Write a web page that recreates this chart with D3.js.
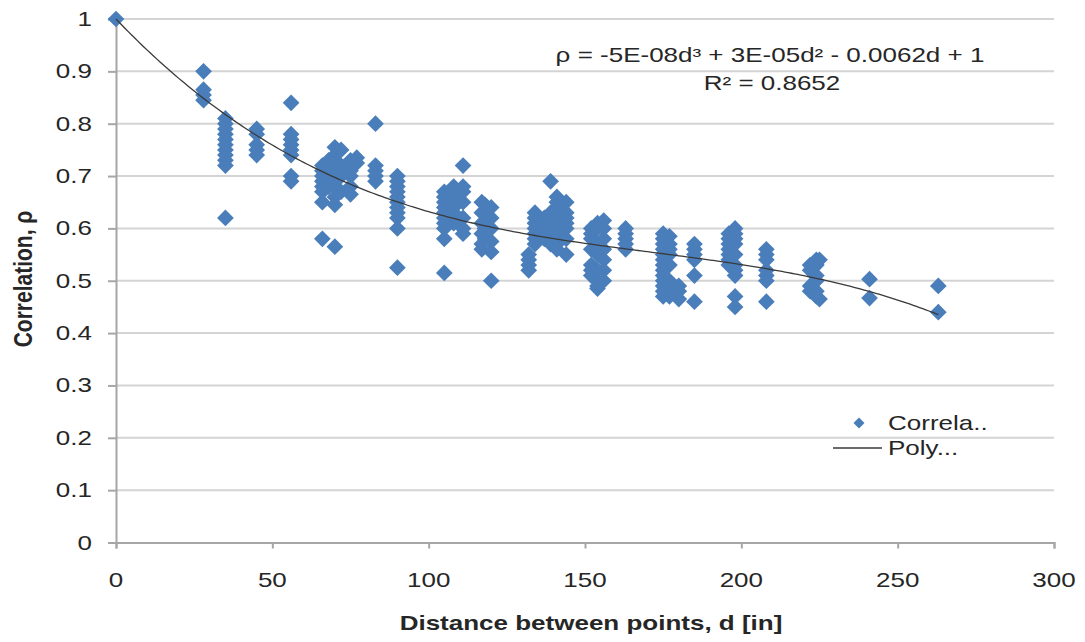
<!DOCTYPE html>
<html lang="en">
<head>
<meta charset="utf-8">
<title>Correlation vs distance</title>
<script src="https://cdn.jsdelivr.net/npm/d3@7"></script>
<style>
  body { margin: 0; background: #fff; }
  text { font-family: "Liberation Sans", Arial, sans-serif; fill: #262626; }
</style>
</head>
<body>
<script>
// distance columns (in) and the correlation values measured at each
var distances = [0, 28, 35, 45, 56, 66, 68, 70, 72, 75, 77, 83, 90, 105, 108, 111, 117, 118, 120,
                 132, 134, 137, 139, 141, 144, 152, 154, 156, 163, 175, 177, 180, 185, 196, 198,
                 208, 222, 224, 225, 241, 263];
var correlations = [
  [1.0],
  [0.90, 0.865, 0.855, 0.845],
  [0.81, 0.80, 0.79, 0.78, 0.77, 0.76, 0.75, 0.74, 0.73, 0.72, 0.62],
  [0.79, 0.78, 0.76, 0.75, 0.74],
  [0.84, 0.78, 0.77, 0.76, 0.75, 0.74, 0.70, 0.69],
  [0.72, 0.71, 0.70, 0.69, 0.68, 0.67, 0.65, 0.58],
  [0.73, 0.70, 0.69, 0.68],
  [0.755, 0.74, 0.73, 0.72, 0.71, 0.70, 0.69, 0.68, 0.66, 0.645, 0.565],
  [0.75, 0.72, 0.70, 0.67],
  [0.73, 0.72, 0.71, 0.70, 0.68, 0.665],
  [0.735, 0.725],
  [0.80, 0.72, 0.71, 0.70, 0.69],
  [0.70, 0.69, 0.68, 0.67, 0.66, 0.65, 0.64, 0.63, 0.62, 0.60, 0.525],
  [0.67, 0.66, 0.65, 0.64, 0.63, 0.62, 0.61, 0.60, 0.58, 0.515],
  [0.68, 0.67, 0.66, 0.65, 0.64, 0.63, 0.62, 0.61],
  [0.72, 0.68, 0.67, 0.65, 0.62, 0.60, 0.59],
  [0.65, 0.63, 0.61, 0.59, 0.57, 0.56],
  [0.645, 0.60, 0.58],
  [0.64, 0.62, 0.60, 0.575, 0.555, 0.50],
  [0.55, 0.54, 0.53, 0.52],
  [0.63, 0.62, 0.61, 0.60, 0.59, 0.58, 0.57],
  [0.62, 0.60, 0.58],
  [0.69, 0.63, 0.61, 0.59, 0.57],
  [0.66, 0.65, 0.64, 0.63, 0.62, 0.61, 0.60, 0.59, 0.58, 0.57, 0.56],
  [0.65, 0.63, 0.62, 0.61, 0.60, 0.58, 0.55],
  [0.60, 0.59, 0.58, 0.56, 0.53, 0.52, 0.51],
  [0.61, 0.60, 0.57, 0.55, 0.52, 0.50, 0.49, 0.485],
  [0.615, 0.60, 0.58, 0.56, 0.54, 0.52, 0.50],
  [0.60, 0.59, 0.58, 0.57, 0.56],
  [0.59, 0.58, 0.57, 0.56, 0.55, 0.54, 0.53, 0.52, 0.51, 0.50, 0.49, 0.48, 0.47],
  [0.585, 0.57, 0.56, 0.55, 0.53, 0.50, 0.49, 0.47],
  [0.49, 0.48, 0.465],
  [0.57, 0.56, 0.55, 0.54, 0.51, 0.46],
  [0.59, 0.58, 0.57, 0.56, 0.55, 0.54, 0.53],
  [0.60, 0.59, 0.58, 0.57, 0.55, 0.53, 0.52, 0.51, 0.47, 0.45],
  [0.56, 0.55, 0.54, 0.52, 0.51, 0.50, 0.46],
  [0.53, 0.52, 0.49, 0.48],
  [0.54, 0.53, 0.51, 0.50, 0.48, 0.47],
  [0.54, 0.465],
  [0.503, 0.467],
  [0.49, 0.44]
];
var xTicks = [0, 50, 100, 150, 200, 250, 300];
var yTicks = [0, 0.1, 0.2, 0.3, 0.4, 0.5, 0.6, 0.7, 0.8, 0.9, 1];
var equationText = "ρ = -5E-08d³ + 3E-05d² - 0.0062d + 1";
var r2Text = "R² = 0.8652";
var legendNames = ["Correla..", "Poly..."];

var W = 1085, H = 642;
var margin = {left: 116, top: 19, right: 31, bottom: 99.5};
var sx = 1.3; // source picture is stretched sideways a bit

var points = [];
distances.forEach(function(d, i) {
    correlations[i].forEach(function(r) { points.push({d: d, r: r}); });
});

var x = d3.scaleLinear().domain([0, 300]).range([margin.left, W - margin.right]);
var y = d3.scaleLinear().domain([0, 1]).range([H - margin.bottom, margin.top]);

var svg = d3.select("body").append("svg").attr("width", W).attr("height", H);

// grid lines
svg.append("g").selectAll("line")
    .data(yTicks.slice(1))
    .enter().append("line")
    .attr("x1", x(0)).attr("x2", x(300))
    .attr("y1", function(d) { return y(d); }).attr("y2", function(d) { return y(d); })
    .style("stroke", "#d4d4d4").style("stroke-width", 2);

// axes
var yAxis = svg.append("g").attr("transform", "translate(" + x(0) + ",0)")
    .call(d3.axisLeft(y).tickValues(yTicks).tickSize(8));
var xAxis = svg.append("g").attr("transform", "translate(0," + y(0) + ")")
    .call(d3.axisBottom(x).tickValues(xTicks).tickSize(6));
[xAxis, yAxis].forEach(function(a) {
    a.select(".domain").style("stroke", "#a6a6a6").style("stroke-width", 2);
    a.selectAll(".tick line").style("stroke", "#a6a6a6").style("stroke-width", 2);
    a.selectAll(".tick text").remove();
});

svg.append("g").selectAll("text").data(yTicks).enter().append("text")
    .attr("transform", function(d) { return "translate(92," + (y(d) + 7) + ") scale(" + sx + ",1)"; })
    .attr("text-anchor", "end").style("font-size", "20px")
    .text(function(d) { return String(+d.toFixed(1)); });
svg.append("g").selectAll("text").data(xTicks).enter().append("text")
    .attr("transform", function(d) { return "translate(" + x(d) + ",587) scale(" + sx + ",1)"; })
    .attr("text-anchor", "middle").style("font-size", "20px")
    .text(function(d) { return d; });

// axis titles
svg.append("text")
    .attr("transform", "translate(32,279) rotate(-90) scale(1,1.2)")
    .attr("text-anchor", "middle").style("font-size", "21px").style("font-weight", "bold")
    .text("Correlation, ρ");
svg.append("text")
    .attr("transform", "translate(591,630) scale(" + sx + ",1)")
    .attr("text-anchor", "middle").style("font-size", "20px").style("font-weight", "bold")
    .text("Distance between points, d [in]");

// diamonds
var diamond = d3.symbol().type(d3.symbolSquare).size(140);
svg.append("g").selectAll("path")
    .data(points)
    .enter().append("path")
    .attr("d", diamond)
    .attr("transform", function(p) { return "translate(" + x(p.d) + "," + y(p.r) + ") rotate(45)"; })
    .style("fill", "#4a7ebb");

// cubic trend fitted by least squares with intercept held at 1
function fitCubic(pts) {
    var M = [[0,0,0],[0,0,0],[0,0,0]], v = [0,0,0];
    pts.forEach(function(p) {
        var t = p.d / 100, f = [t, t*t, t*t*t], rr = p.r - 1;
        for (var i = 0; i < 3; i++) {
            v[i] += f[i] * rr;
            for (var j = 0; j < 3; j++) M[i][j] += f[i] * f[j];
        }
    });
    for (var k = 0; k < 3; k++) {
        for (var i = k + 1; i < 3; i++) {
            var m = M[i][k] / M[k][k];
            for (var j = k; j < 3; j++) M[i][j] -= m * M[k][j];
            v[i] -= m * v[k];
        }
    }
    var c = [0,0,0];
    for (var i = 2; i >= 0; i--) {
        var s = v[i];
        for (var j = i + 1; j < 3; j++) s -= M[i][j] * c[j];
        c[i] = s / M[i][i];
    }
    return function(d) { var t = d / 100; return 1 + c[0]*t + c[1]*t*t + c[2]*t*t*t; };
}
var trend = fitCubic(points);
var trendPts = d3.range(0, 263.5, 1).map(function(d) { return {d: d, r: trend(d)}; });
svg.append("path")
    .datum(trendPts)
    .attr("d", d3.line().x(function(p) { return x(p.d); }).y(function(p) { return y(p.r); }))
    .style("fill", "none").style("stroke", "#3a3a3a").style("stroke-width", 1.3);

// equation labels
svg.append("text").attr("transform", "translate(770,62) scale(" + sx + ",1)")
    .attr("text-anchor", "middle").style("font-size", "20px").text(equationText);
svg.append("text").attr("transform", "translate(772,90) scale(" + sx + ",1)")
    .attr("text-anchor", "middle").style("font-size", "20px").text(r2Text);

// legend
var lg = svg.append("g");
lg.append("path").attr("d", d3.symbol().type(d3.symbolSquare).size(60))
    .attr("transform", "translate(859,423) rotate(45)").style("fill", "#4a7ebb");
lg.append("line").attr("x1", 833).attr("x2", 882).attr("y1", 448).attr("y2", 448)
    .style("stroke", "#3a3a3a").style("stroke-width", 1.3);
lg.selectAll("text").data(legendNames).enter().append("text")
    .attr("transform", function(d, i) { return "translate(888," + (430 + i * 25) + ") scale(" + sx + ",1)"; })
    .style("font-size", "20px").text(function(d) { return d; });
</script>
</body>
</html>
